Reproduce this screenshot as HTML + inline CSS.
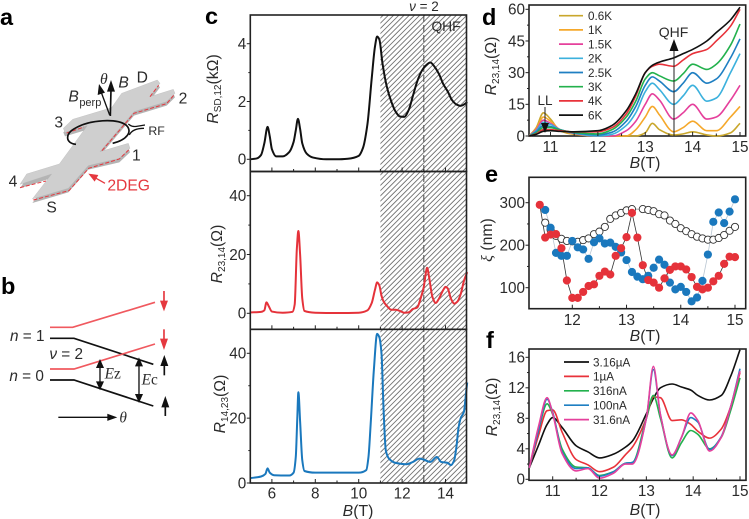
<!DOCTYPE html>
<html lang="en">
<head>
<meta charset="utf-8">
<title>Quantum Hall ferromagnet figure</title>
<style>
html,body{margin:0;padding:0;background:#fff;}
svg{display:block;font-family:"Liberation Sans",sans-serif;}
text{fill:#2b2b2b;}
.panel{font-weight:bold;font-size:23.5px;fill:#000;}
.it{font-style:italic;}
.ser{font-family:"Liberation Serif",serif;}
</style>
</head>
<body>
<svg id="fig" xmlns="http://www.w3.org/2000/svg" width="749" height="519" viewBox="0 0 749 519">
<defs>
<pattern id="hatch" patternUnits="userSpaceOnUse" width="3.7" height="3.7" patternTransform="rotate(-45)">
<line x1="0" y1="0.5" x2="3.7" y2="0.5" stroke="#5f5f5f" stroke-width="0.8"/>
</pattern>
</defs>
<text class="panel" x="0" y="25">a</text>
<text class="panel" x="1" y="294">b</text>
<text class="panel" x="205" y="24">c</text>
<text class="panel" x="482" y="25">d</text>
<text class="panel" x="485" y="182">e</text>
<text class="panel" x="486" y="348">f</text>

<!-- Panel a: device schematic -->
<g transform="scale(0.3333)">
<polygon fill="#b4b4b4" transform="translate(0,12)" points="60,553 80,522 178,492 262,377 195,397 190,385 218,358 335,323 365,280 472,240 480,250 450,290 520,268 525,280 500,305 402,335 300,455 385,430 390,445 358,475 265,497 205,565 97,597 155,522"/>
<polygon fill="#cfcfcf" stroke="#b4b4b4" stroke-width="1" points="60,553 80,522 178,492 262,377 195,397 190,385 218,358 335,323 365,280 472,240 480,250 450,290 520,268 525,280 500,305 402,335 300,455 385,430 390,445 358,475 265,497 205,565 97,597 155,522"/>
<g fill="none" stroke="#e5383f" stroke-width="3" stroke-dasharray="12 6">
<polyline points="100,600 207,572 266,505 358,477 386,450"/>
<polyline points="60,563 138,543"/>
<polyline points="200,399 252,381"/>
<polyline points="306,452 402,340 500,311 522,285"/>
<polyline points="450,290 476,256"/>
</g>
<path d="M228,433 C195,430 195,400 225,385 C270,358 350,355 378,375 C400,395 380,420 338,430" fill="none" stroke="#111" stroke-width="5"/>
<path d="M385,372 C400,385 410,378 435,375 M388,405 C395,390 410,385 432,385" fill="none" stroke="#111" stroke-width="4"/>
<line x1="331" y1="348" x2="333" y2="270" stroke="#111" stroke-width="5"/>
<polygon points="333,240 345,275 321,275" fill="#111"/>
<line x1="329" y1="345" x2="303" y2="275" stroke="#111" stroke-width="4"/>
<polygon points="297,252 315,278 293,285" fill="#111"/>
<g font-size="47">
<text class="it ser" x="300" y="252">θ</text>
<text class="it" x="355" y="262">B</text>
<text x="410" y="247">D</text>
<text x="536" y="310">2</text>
<text class="it" x="205" y="305">B</text>
<text x="238" y="318" font-size="33">perp</text>
<text x="163" y="382">3</text>
<text x="445" y="405" font-size="37">RF</text>
<text x="396" y="482">1</text>
<text x="26" y="560">4</text>
<text x="139" y="638">S</text>
<text x="322" y="571" style="fill:#e5383f">2DEG</text>
</g>
<line x1="315" y1="550" x2="285" y2="533" stroke="#e5383f" stroke-width="4"/>
<polygon points="265,521 295,525 284,545" fill="#e5383f"/>
</g>

<!-- Panel b: energy level diagram -->
<g transform="translate(0,270) scale(0.3333)">
<g fill="none" stroke-width="5">
<polyline stroke="#f0595f" points="150,172 218,172 465,97"/>
<polyline stroke="#111" points="150,205 222,205 460,283"/>
<polyline stroke="#f0595f" points="150,297 222,297 465,222"/>
<polyline stroke="#111" points="150,330 222,330 460,408"/>
</g>
<g stroke-width="5">
<line x1="492" y1="63" x2="492" y2="100" stroke="#e5383f"/><polygon points="492,124 480,92 504,92" fill="#e5383f"/>
<line x1="492" y1="178" x2="492" y2="215" stroke="#e5383f"/><polygon points="492,240 480,206 504,206" fill="#e5383f"/>
<line x1="493" y1="316" x2="493" y2="280" stroke="#111"/><polygon points="493,255 481,288 505,288" fill="#111"/>
<line x1="496" y1="438" x2="496" y2="405" stroke="#111"/><polygon points="496,378 484,412 508,412" fill="#111"/>
</g>
<g stroke="#111" stroke-width="4">
<line x1="300" y1="285" x2="300" y2="342"/><polygon points="300,272 291,292 309,292" fill="#111"/><polygon points="300,356 291,336 309,336" fill="#111"/>
<line x1="417" y1="280" x2="417" y2="380"/><polygon points="417,267 408,287 426,287" fill="#111"/><polygon points="417,394 408,374 426,374" fill="#111"/>
<line x1="175" y1="442" x2="330" y2="442"/><polygon points="346,442 324,434 324,450" fill="#111"/>
</g>
<g font-size="46">
<text x="30" y="213"><tspan class="it">n</tspan> = 1</text>
<text x="148" y="267"><tspan class="it">ν</tspan> = 2</text>
<text x="28" y="333"><tspan class="it">n</tspan> = 0</text>
<text class="ser" x="314" y="326"><tspan class="it">E</tspan>z</text>
<text class="ser" x="425" y="344"><tspan class="it">E</tspan>c</text>
<text class="it ser" x="358" y="457">θ</text>
</g>
</g>

<!-- Static axis titles -->
<g font-size="15.8">
<text transform="translate(218,89) rotate(-90)" text-anchor="middle"><tspan class="it">R</tspan><tspan font-size="10" dy="3">SD,12</tspan><tspan dy="-3">(kΩ)</tspan></text>
<text transform="translate(222,254) rotate(-90)" text-anchor="middle"><tspan class="it">R</tspan><tspan font-size="10" dy="3">23,14</tspan><tspan dy="-3">(Ω)</tspan></text>
<text transform="translate(225,404) rotate(-90)" text-anchor="middle"><tspan class="it">R</tspan><tspan font-size="10" dy="3">14,23</tspan><tspan dy="-3">(Ω)</tspan></text>
<text x="358" y="516" text-anchor="middle"><tspan class="it">B</tspan>(T)</text>
<text transform="translate(496,66) rotate(-90)" text-anchor="middle"><tspan class="it">R</tspan><tspan font-size="10" dy="3">23,14</tspan><tspan dy="-3">(Ω)</tspan></text>
<text x="645" y="168" text-anchor="middle"><tspan class="it">B</tspan>(T)</text>
<text transform="translate(492,240) rotate(-90)" text-anchor="middle"><tspan class="it ser">ξ</tspan> (nm)</text>
<text x="645" y="341" text-anchor="middle"><tspan class="it">B</tspan>(T)</text>
<text transform="translate(497,407) rotate(-90)" text-anchor="middle"><tspan class="it">R</tspan><tspan font-size="10" dy="3">23,14</tspan><tspan dy="-3">(Ω)</tspan></text>
<text x="645" y="515" text-anchor="middle"><tspan class="it">B</tspan>(T)</text>
</g>
</svg>

<script>
// ---------- Panel c data ----------
const cXTicks = [6, 8, 10, 12, 14];
const c1YTicks = [0, 2, 4];
const c2YTicks = [0, 20, 40];
const c3YTicks = [0, 20, 40];
const c1B = [5,5.3,5.5,5.65,5.8,5.9,6.0,6.2,6.5,6.8,7.0,7.1,7.2,7.3,7.4,7.6,7.9,8.5,9,9.5,10,10.2,10.4,10.6,10.75,10.85,10.95,11.1,11.3,11.5,11.7,11.9,12.1,12.3,12.5,12.7,12.9,13.1,13.3,13.5,13.7,13.9,14.1,14.3,14.5,14.7,14.9,15];
const c1R = [0,0.03,0.15,0.55,1.12,0.8,0.35,0.1,0.1,0.25,0.6,1.0,1.4,1.05,0.55,0.2,0.06,0,0,0.02,0.12,0.4,1.2,2.8,3.9,4.25,4.15,3.3,2.5,2.0,1.65,1.48,1.47,1.7,2.2,2.7,3.05,3.25,3.35,3.2,2.95,2.6,2.35,2.05,1.9,1.85,1.92,1.98];
const c2B = [5,5.5,5.65,5.75,5.85,6.0,6.5,6.95,7.05,7.15,7.22,7.3,7.4,7.5,8,9,10,10.4,10.6,10.75,10.85,10.95,11.05,11.15,11.3,11.5,11.7,11.9,12.1,12.3,12.5,12.6,12.7,12.85,13,13.1,13.15,13.25,13.4,13.55,13.7,13.9,14.0,14.1,14.25,14.4,14.55,14.7,14.85,15];
const c2R = [0.3,0.5,1.0,3.7,2.5,0.6,0.2,0.5,3,22,28,20,5,0.8,0.2,0.1,0.2,1,3.5,8,10.5,9.5,6,4,2.5,1.2,1.2,0.8,0.2,0.3,1.5,1.7,2,5,9,14,15.5,12,5.5,3.5,5,8,9,8.5,5,3.3,4,6.5,11,14];
const c3B = [5,5.5,5.7,5.8,5.9,6.1,6.8,7.0,7.1,7.17,7.22,7.3,7.4,7.5,8,9,10,10.35,10.45,10.55,10.7,10.85,10.95,11.05,11.15,11.25,11.4,11.7,12.2,12.5,12.8,13,13.3,13.6,13.8,14.1,14.25,14.4,14.5,14.6,14.7,14.85,14.95,15];
const c3R = [1.5,2,2.8,4.5,3.2,2.4,2.3,3.2,8,20,28,19,7,3.7,3.2,3.2,3.2,4,8,18,35,46,45,40,22,10,7.5,6.2,5.8,6.5,7.5,7.2,6.5,8,6.5,6.2,5.5,7,11,17,20,22,28,31];
const cHatchStart = 11;
const cNuB = 13;

// ---------- Panel d data ----------
const dXTicks = [11, 12, 13, 14, 15];
const dYTicks = [0, 15, 30, 45, 60];
const dB = [10.55,10.7,10.85,11,11.2,11.5,12,12.3,12.6,12.8,13,13.15,13.3,13.6,13.8,14,14.3,14.5,14.8,15];
const dLabels = ["0.6K","1K","1.5K","2K","2.5K","3K","4K","6K"];
const dColors = ["#c9a72c","#f5a82b","#e5409c","#3cb1dd","#1f7fc2","#23b14d","#e8323a","#111111"];
const d06 = [0,4,11,8,2.5,0.8,0,0,0,0,1.5,6,3,0.5,1,2,0.5,0,1.5,6];
const d1 = [0,3.5,9,7,3,1,0,0,0,3,9,14,10,2,4,7,2.5,2.5,9,14];
const d15 = [0,3,7.5,6,3,1.2,0,0,2.5,7,15,20,17,8,11,15,8,9,17,24];
const d2 = [0,2.5,6.5,5.5,3,1.3,0,0.8,5,11,21,25,22,15,19,24,16.5,18,30,39];
const d25 = [0,2,5,4.5,3,1.5,0.5,1.8,7,14,24,28,26,21,25,30,25,27,37,46];
const d3 = [0,1.5,4,4,2.8,1.7,1,3,9,16.5,27,30,28.5,26,29.5,34,31.5,34,43,53];
const d4 = [0,1,3,3,2.5,1.9,2,4,10.5,19,30,33,34,33,36,39,41,45,52,60];
const d6 = [0,0.8,2.2,2.5,2.2,2,2.5,5,12,20,30,33.5,35,37,39,41,45,49,55,61];
const dSeries = [d06, d1, d15, d2, d25, d3, d4, d6];

// ---------- Panel e data ----------
const eXTicks = [12, 13, 14, 15];
const eYTicks = [100, 200, 300];
const eRedB = [11.4,11.5,11.6,11.7,11.8,11.9,12.0,12.1,12.2,12.3,12.4,12.5,12.6,12.7,12.8,12.9,13,13.1,13.2,13.3,13.4,13.5,13.6,13.7,13.8,13.9,14,14.1,14.2,14.3,14.4,14.5,14.6,14.7,14.8,14.9,15];
const eRed = [295,218,225,226,193,117,76,76,90,104,108,128,138,131,175,193,219,276,218,153,118,112,100,122,142,150,150,143,125,102,96,100,115,128,156,173,172];
const eBlueB = [11.5,11.6,11.7,11.8,11.9,12,12.1,12.2,12.3,12.4,12.5,12.6,12.7,12.8,12.9,13,13.1,13.2,13.3,13.4,13.5,13.6,13.7,13.8,13.9,14,14.1,14.2,14.3,14.4,14.5,14.6,14.7,14.8,14.9,15];
const eBlue = [283,241,182,175,175,210,195,190,168,207,216,204,206,196,183,165,137,126,120,128,147,166,154,112,96,102,90,68,77,116,178,255,277,252,279,308];
const eOpenB = [11.5,11.6,11.7,11.8,11.9,12,12.1,12.2,12.3,12.4,12.5,12.6,12.7,12.8,12.9,13,13.1,13.3,13.4,13.5,13.6,13.7,13.8,13.9,14,14.1,14.2,14.3,14.4,14.5,14.6,14.7,14.8,14.9,15];
const eOpen = [253,236,222,215,210,209,208,212,216,226,232,243,262,270,276,282,285,285,283,280,273,270,258,250,240,233,226,220,216,213,213,217,224,234,243];

// ---------- Panel f data ----------
const fXTicks = [11, 12, 13, 14, 15];
const fYTicks = [0, 4, 8, 12, 16];
const fB = [10.5,10.7,10.88,11,11.2,11.5,11.75,12,12.3,12.55,12.7,13,13.15,13.3,13.55,13.75,13.95,14.1,14.35,14.6,14.8,15];
const fLabels = ["3.16µA","1µA","316nA","100nA","31.6nA"];
const fColors = ["#111111","#e8323a","#23b14d","#1f7fc2","#e5409c"];
const f316u = [1.5,4.5,7.2,8.1,6.8,4.4,3.6,2.8,3.3,4.2,5,8.6,10.6,12,12.5,12.1,11.7,11,10.4,11,13.5,17];
const f1u = [1.5,5.8,9,9.1,6.2,2.6,1.9,1.0,1.6,3.2,4.2,8,10.8,10.7,7.7,7.8,7.2,6.3,5.4,6.6,9.5,14];
const f316n = [1.5,6.5,9.9,8.5,4,1.6,1.5,0.5,1,2.1,2.2,8,11,8,2.8,4.8,6.4,5.9,4,5.5,9,13.3];
const f100n = [1.5,6.5,10.5,8.8,3.6,1.4,1.5,0.4,1,2.1,2.2,8,14.4,8.5,3.1,5.5,8.1,7.5,3.9,5.6,9.5,14.5];
const f316p = [1.5,7,10.7,8.6,3.4,1.1,1.4,0.15,0.8,2,2,8,14.8,8.5,3.2,5.5,8.7,7.7,3.7,5.5,9.5,14.2];
const fSeries = [f316u, f1u, f316n, f100n, f316p];

// ---------- helpers ----------
const NS = 'http://www.w3.org/2000/svg';
const fig = document.getElementById('fig');
function linear(d0, d1, p0, p1) {
  return function (v) { return p0 + (v - d0) * (p1 - p0) / (d1 - d0); };
}
function make(tag, attrs, parent) {
  const e = document.createElementNS(NS, tag);
  for (const k in attrs) e.setAttribute(k, attrs[k]);
  (parent || fig).appendChild(e);
  return e;
}
// Monotone cubic path through the plotted samples (no overshoot past peaks).
function smoothPath(xs, ys, sx, sy) {
  const p = xs.map(function (x, i) { return [sx(x), sy(ys[i])]; });
  const n = p.length;
  const slopes = [];
  for (let i = 0; i < n - 1; i++) slopes.push((p[i + 1][1] - p[i][1]) / (p[i + 1][0] - p[i][0]));
  const m = [slopes[0]];
  for (let i = 1; i < n - 1; i++) {
    const a = slopes[i - 1], b = slopes[i];
    if (a * b <= 0) { m.push(0); continue; }
    const h0 = p[i][0] - p[i - 1][0], h1 = p[i + 1][0] - p[i][0];
    const w1 = 2 * h1 + h0, w2 = h1 + 2 * h0;
    m.push((w1 + w2) / (w1 / a + w2 / b));
  }
  m.push(slopes[n - 2]);
  let d = 'M' + p[0][0].toFixed(2) + ',' + p[0][1].toFixed(2);
  for (let i = 0; i < n - 1; i++) {
    const h = (p[i + 1][0] - p[i][0]) / 3;
    d += ' C' + (p[i][0] + h).toFixed(2) + ',' + (p[i][1] + m[i] * h).toFixed(2) +
         ' ' + (p[i + 1][0] - h).toFixed(2) + ',' + (p[i + 1][1] - m[i + 1] * h).toFixed(2) +
         ' ' + p[i + 1][0].toFixed(2) + ',' + p[i + 1][1].toFixed(2);
  }
  return d;
}
function drawCurve(xs, ys, sx, sy, color, width, name) {
  const path = make('path', { d: smoothPath(xs, ys, sx, sy), fill: 'none', stroke: color, 'stroke-width': width, 'stroke-linejoin': 'round' });
  
  
  return path;
}
function drawFrame(x, y, w, h, name) {
  const r = make('rect', { x: x, y: y, width: w, height: h, fill: 'none', stroke: '#222', 'stroke-width': 1.6 });
  
  
}
function drawText(x, y, str, size, anchor, name) {
  const t = make('text', { x: x, y: y, 'font-size': size, 'text-anchor': anchor });
  t.textContent = str;
  
  
  return t;
}
function drawXAxis(ticks, sx, yBase, labelY, prefix, showLabels) {
  ticks.forEach(function (v, i) {
    const l = make('line', { x1: sx(v), x2: sx(v), y1: yBase, y2: yBase - 4, stroke: '#222', 'stroke-width': 1 });
    
    
    if (i < ticks.length - 1) {
      const mid = (v + ticks[i + 1]) / 2;
      const m = make('line', { x1: sx(mid), x2: sx(mid), y1: yBase, y2: yBase - 2.5, stroke: '#222', 'stroke-width': 1 });
      
      
    }
    if (showLabels) drawText(sx(v), labelY, String(v), 15.3, 'middle', prefix + '-x-tick-label');
  });
}
function drawYAxis(ticks, sy, xBase, prefix) {
  ticks.forEach(function (v, i) {
    const l = make('line', { x1: xBase - 3.5, x2: xBase, y1: sy(v), y2: sy(v), stroke: '#222', 'stroke-width': 1 });
    
    
    if (i < ticks.length - 1) {
      const mid = (v + ticks[i + 1]) / 2;
      const m = make('line', { x1: xBase - 2, x2: xBase, y1: sy(mid), y2: sy(mid), stroke: '#222', 'stroke-width': 1 });
      
      
    }
    drawText(xBase - 4, sy(v) + 5.4, String(v), 15.3, 'end', prefix + '-y-tick-label');
  });
}
function drawLegendRow(x0, x1, y, tx, color, label, size, name) {
  const l = make('line', { x1: x0, x2: x1, y1: y, y2: y, stroke: color, 'stroke-width': 1.7 });
  
  
  drawText(tx, y + 4.3, label, size, 'start', name + '-label');
}
function drawDots(xs, ys, sx, sy, r, fill, stroke, name) {
  xs.forEach(function (x, i) {
    const c = make('circle', { cx: sx(x), cy: sy(ys[i]), r: r, fill: fill, stroke: stroke, 'stroke-width': stroke === 'none' ? 0 : 0.9 });
    
    
  });
}
function drawThinLine(xs, ys, sx, sy, color, name) {
  const pts = xs.map(function (x, i) { return sx(x).toFixed(1) + ',' + sy(ys[i]).toFixed(1); }).join(' ');
  const p = make('polyline', { points: pts, fill: 'none', stroke: color, 'stroke-width': 0.8 });
  
  
}

// ---------- Panel c ----------
const cX = linear(6, 14, 271.9, 445.5);
const c1Y = linear(0, 4, 159.3, 43.7);
const c2Y = linear(0, 40, 313.3, 195.7);
const c3Y = linear(0, 40, 483, 353.3);
const cLeft = 250.3, cRight = 466.5, cTop = 15, cBot1 = 171.5, cBot2 = 329.3, cBot3 = 483;

const hatchRect = make('rect', { x: cX(cHatchStart), y: cTop, width: cRight - cX(cHatchStart), height: cBot3 - cTop, fill: 'url(#hatch)' });


const nuLine = make('line', { x1: cX(cNuB), x2: cX(cNuB), y1: cTop, y2: cBot3, stroke: '#555', 'stroke-width': 1.1, 'stroke-dasharray': '7 3' });



drawCurve(c1B, c1R, cX, c1Y, '#111', 2, 'rsd-curve');
drawCurve(c2B, c2R, cX, c2Y, '#e5323a', 2, 'r2314-curve');
drawCurve(c3B, c3R, cX, c3Y, '#1a78bd', 2, 'r1423-curve');
drawFrame(cLeft, cTop, cRight - cLeft, cBot1 - cTop, 'rsd-plot-frame');
drawFrame(cLeft, cBot1, cRight - cLeft, cBot2 - cBot1, 'r2314-plot-frame');
drawFrame(cLeft, cBot2, cRight - cLeft, cBot3 - cBot2, 'r1423-plot-frame');
drawXAxis(cXTicks, cX, cBot1, 0, 'rsd', false);
drawXAxis(cXTicks, cX, cBot2, 0, 'r2314', false);
drawXAxis(cXTicks, cX, cBot3, 498.5, 'r1423', true);
drawYAxis(c1YTicks, c1Y, cLeft, 'rsd');
drawYAxis(c2YTicks, c2Y, cLeft, 'r2314');
drawYAxis(c3YTicks, c3Y, cLeft, 'r1423');
const nuText = drawText(424, 11, ' = 2', 13.5, 'middle', 'nu-2-label');
const nuGlyph = make('tspan', { 'font-style': 'italic' });
nuGlyph.textContent = 'ν';
nuText.insertBefore(nuGlyph, nuText.firstChild);
drawText(446, 31, 'QHF', 13.8, 'middle', 'qhf-label-c');

// ---------- Panel d ----------
const dX = linear(11, 15, 550.5, 740);
const dY = linear(0, 60, 136, 9.3);
drawFrame(529, 5, 216.7, 131, 'temperature-plot-frame');
dSeries.forEach(function (vals, i) {
  drawCurve(dB, vals, dX, dY, dColors[i], 1.6, 'temperature-curve-' + dLabels[i]);
});
drawXAxis(dXTicks, dX, 136, 152, 'temperature', true);
drawYAxis(dYTicks, dY, 529, 'temperature');
dLabels.forEach(function (lab, i) {
  drawLegendRow(559, 583, 15.7 + i * 14.2, 588, dColors[i], lab, 11.7, 'temperature-legend-' + lab);
});
const qhfArrow = make('line', { x1: 674, x2: 674, y1: 136, y2: 50, stroke: '#222', 'stroke-width': 1 });


const qhfHead = make('polygon', { points: '674,39 669.5,51 678.5,51', fill: '#111' });


drawText(673.5, 37, 'QHF', 14, 'middle', 'qhf-label-d');
drawText(545, 105, 'LL', 13.5, 'middle', 'll-label');
const llArrow = make('line', { x1: 545, x2: 545, y1: 107, y2: 125, stroke: '#222', 'stroke-width': 1 });


const llHead = make('polygon', { points: '545,133 541,123 549,123', fill: '#111' });



// ---------- Panel e ----------
const eX = linear(12, 15, 572.3, 735);
const eY = linear(100, 300, 287.7, 202.7);
drawFrame(529, 177.3, 216.7, 131.4, 'correlation-plot-frame');
drawThinLine(eOpenB, eOpen, eX, eY, '#888', 'open-series-line');
drawThinLine(eBlueB, eBlue, eX, eY, '#b9c6d2', 'blue-series-line');
drawThinLine(eRedB, eRed, eX, eY, '#333', 'red-series-line');
drawDots(eOpenB, eOpen, eX, eY, 3.6, '#fff', '#333', 'open-series-point');
drawDots(eBlueB, eBlue, eX, eY, 4.1, '#1a78bd', 'none', 'blue-series-point');
drawDots(eRedB, eRed, eX, eY, 4.1, '#e5323a', 'none', 'red-series-point');
drawXAxis(eXTicks, eX, 308.7, 325, 'correlation', true);
drawYAxis(eYTicks, eY, 529, 'correlation');

// ---------- Panel f ----------
const fX = linear(11, 15, 552.7, 740);
const fY = linear(0, 16, 479.3, 357.3);
drawFrame(529, 349, 217, 131.3, 'current-plot-frame');
fSeries.forEach(function (vals, i) {
  drawCurve(fB, vals, fX, fY, fColors[i], 1.6, 'current-curve-' + fLabels[i]);
});
drawXAxis(fXTicks, fX, 480.3, 496, 'current', true);
drawYAxis(fYTicks, fY, 529, 'current');
fLabels.forEach(function (lab, i) {
  drawLegendRow(564, 589, 362 + i * 14.4, 593, fColors[i], lab, 11.7, 'current-legend-' + lab);
});
</script>
</body>
</html>
